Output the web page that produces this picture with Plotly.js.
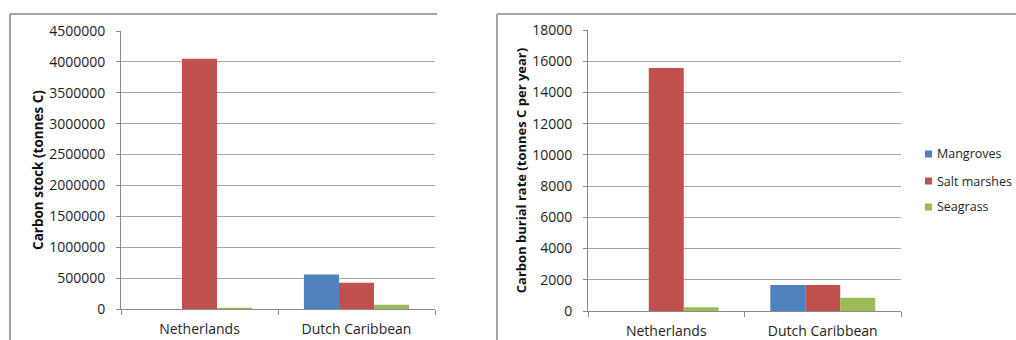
<!DOCTYPE html>
<html>
<head>
<meta charset="utf-8">
<script src="https://cdn.plot.ly/plotly-3.0.1.min.js"></script>
<style>
html,body{margin:0;padding:0;background:#fff;}
#chart{width:1016px;height:340px;}
</style>
</head>
<body>
<div id="chart"></div>
<script>
// ---- Data ----
var regions = ["Netherlands", "Dutch Caribbean"];
var seriesNames = ["Mangroves", "Salt marshes", "Seagrass"];
var seriesColors = ["#4F81BD", "#C0504D", "#9BBB59"];

// Carbon stock (tonnes C)
var stockMangroves = [0, 560000];
var stockSaltMarshes = [4050000, 425000];
var stockSeagrass = [20000, 70000];

// Carbon burial rate (tonnes C per year)
var burialMangroves = [0, 1660];
var burialSaltMarshes = [15560, 1660];
var burialSeagrass = [240, 850];

var stockTitle = "Carbon stock (tonnes C)";
var burialTitle = "Carbon burial rate (tonnes C per year)";

var stockSeries = [stockMangroves, stockSaltMarshes, stockSeagrass];
var burialSeries = [burialMangroves, burialSaltMarshes, burialSeagrass];

var FONT = "Open Sans, Liberation Sans, sans-serif";
var TXT = "#1e1e1e";
var traces = [];
for (var i = 0; i < seriesNames.length; i++) {
  traces.push({
    type: "bar", x: regions, y: stockSeries[i], name: seriesNames[i],
    marker: {color: seriesColors[i]}, xaxis: "x", yaxis: "y",
    showlegend: false, hoverinfo: "x+y+name"
  });
}
for (var j = 0; j < seriesNames.length; j++) {
  traces.push({
    type: "bar", x: regions, y: burialSeries[j], name: seriesNames[j],
    marker: {color: seriesColors[j]}, xaxis: "x2", yaxis: "y2",
    showlegend: false, hoverinfo: "x+y+name"
  });
}

var W = 1016, H = 340;
function px(x){ return x / W; }
function py(y){ return 1 - y / H; }

var axisCommon = {
  showline: true, linecolor: "#8a8a8a", linewidth: 1,
  tickfont: {family: FONT, size: 14, color: TXT},
  fixedrange: true, automargin: false
};

var xaxisBase = Object.assign({}, axisCommon, {
  type: "category", ticks: "outside", tickson: "boundaries",
  ticklen: 5, tickcolor: "#8a8a8a", showgrid: false, zeroline: false,
  ticklabelstandoff: 7
});
var yaxisBase = Object.assign({}, axisCommon, {
  ticks: "outside", ticklen: 4, tickcolor: "#8a8a8a",
  showgrid: true, gridcolor: "#a6a6a6", gridwidth: 1, zeroline: false,
  tickformat: "d", ticklabelstandoff: 8
});

// Custom legend (Excel-style small squares) built from the series arrays
var legendShapes = [], legendAnns = [];
var legendRowsY = [154, 181, 207];
for (var k = 0; k < seriesNames.length; k++) {
  var cy = legendRowsY[k];
  legendShapes.push({type: "rect", xref: "paper", yref: "paper",
    x0: px(925), x1: px(932), y0: py(cy + 3.5), y1: py(cy - 3.5),
    fillcolor: seriesColors[k], line: {width: 0}});
  legendAnns.push({xref: "paper", yref: "paper", x: px(935), y: py(cy),
    xanchor: "left", yanchor: "middle", showarrow: false, text: seriesNames[k],
    font: {family: FONT, size: 12.5, color: TXT}});
}

var layout = {
  width: W, height: H,
  margin: {l: 0, r: 0, t: 0, b: 0, autoexpand: false},
  paper_bgcolor: "#ffffff", plot_bgcolor: "#ffffff",
  barmode: "group", bargap: 0.33, bargroupgap: 0,
  font: {family: FONT, color: TXT},
  showlegend: false,
  xaxis: Object.assign({}, xaxisBase, {domain: [px(121), px(435)], anchor: "y"}),
  yaxis: Object.assign({}, yaxisBase, {
    domain: [py(309), py(31)], anchor: "x", range: [0, 4500000], dtick: 500000,
    title: {text: stockTitle, font: {family: FONT, size: 13.5, color: "#111", weight: "bold"}}
  }),
  xaxis2: Object.assign({}, xaxisBase, {domain: [px(588), px(901)], anchor: "y2"}),
  yaxis2: Object.assign({}, yaxisBase, {
    domain: [py(311), py(30)], anchor: "x2", range: [0, 18000], dtick: 2000,
    title: {text: burialTitle, font: {family: FONT, size: 13, color: "#111", weight: "bold"}}
  }),
  annotations: legendAnns,
  shapes: [
    {type: "line", xref: "paper", yref: "paper", x0: px(10), x1: px(10), y0: py(14), y1: py(340), line: {color: "#888", width: 1.5}},
    {type: "line", xref: "paper", yref: "paper", x0: px(10), x1: px(437), y0: py(14), y1: py(14), line: {color: "#888", width: 1.5}},
    {type: "line", xref: "paper", yref: "paper", x0: px(497), x1: px(497), y0: py(14), y1: py(340), line: {color: "#888", width: 1.5}},
    {type: "line", xref: "paper", yref: "paper", x0: px(497), x1: px(1016), y0: py(14), y1: py(14), line: {color: "#888", width: 1.5}}
  ].concat(legendShapes)
};

Plotly.newPlot("chart", traces, layout, {displayModeBar: false, staticPlot: true});
</script>
</body>
</html>
